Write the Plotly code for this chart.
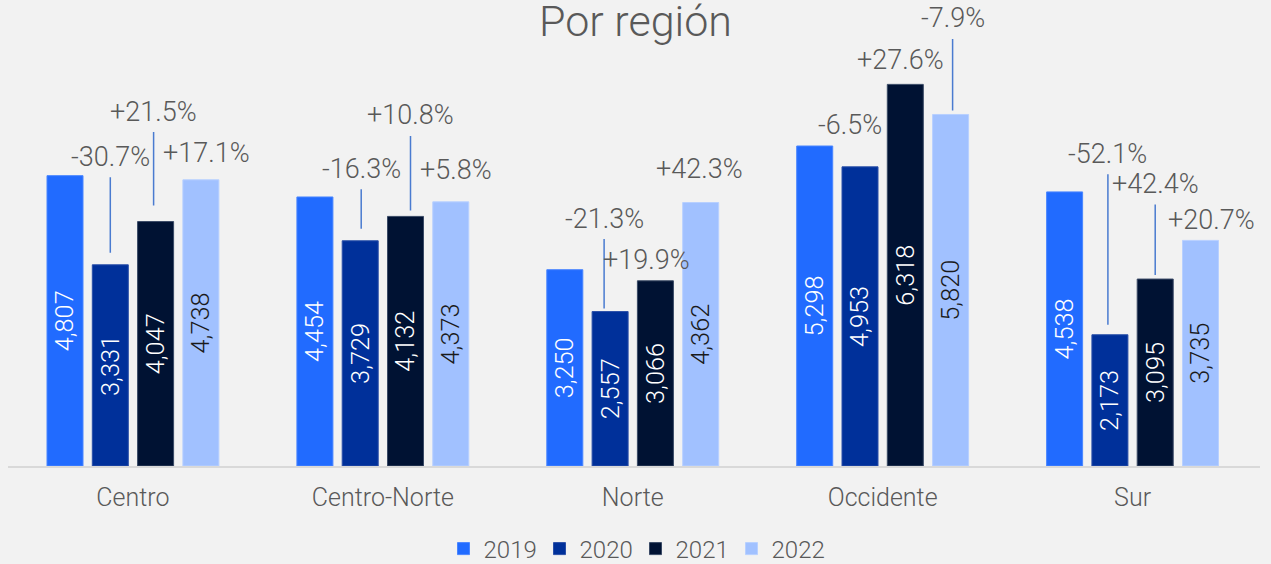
import plotly.graph_objects as go

regions = ["Centro", "Centro-Norte", "Norte", "Occidente", "Sur"]
years = ["2019", "2020", "2021", "2022"]
v2019 = [4807, 4454, 3250, 5298, 4538]
v2020 = [3331, 3729, 2557, 4953, 2173]
v2021 = [4047, 4132, 3066, 6318, 3095]
v2022 = [4738, 4373, 4362, 5820, 3735]
series = [v2019, v2020, v2021, v2022]

colors = ["#216BFF", "#00309A", "#001233", "#A1C1FF"]
edge_colors = ["#4A86FF", "#2A4FA8", "#3A4A66", "#B8D0FF"]
text_colors = ["#FFFFFF", "#FFFFFF", "#FFFFFF", "#1A1A1A"]

FONT = "Roboto"
GRAY = "#595959"
BARGAP = 0.275
BARGROUPGAP = 0.205

# label placement for year-over-year change labels (2020, 2021, 2022 per region):
# (x shift px, y offset px from bar top, leader line, standoff px)
label_style = [
    [(0, -108, True, 12), (-2, -110, True, 16), (6, -27, False, 0)],
    [(1, -72, True, 12), (5, -101, True, 6), (5, -32, False, 0)],
    [(-6, -93, True, 3), (-9, -21, False, 0), (-1, -34, False, 0)],
    [(-10, -42, False, 0), (-5, -24, False, 0), (2, -96, True, 4)],
    [(-2, -181, True, 10), (0, -95, True, 4), (11, -20, False, 0)],
]

fig = go.Figure()
for j, (yr, vals) in enumerate(zip(years, series)):
    fig.add_trace(go.Bar(
        x=regions, y=vals, name=yr,
        marker=dict(color=colors[j], line=dict(color=edge_colors[j], width=1)),
        text=[f"{v:,}" for v in vals],
        textposition="inside", insidetextanchor="middle", textangle=-90,
        textfont=dict(family=FONT, size=27, color=text_colors[j], weight=300),
        cliponaxis=False,
    ))

slot = (1 - BARGAP) / len(years)
annotations = []
for i, reg in enumerate(regions):
    for j in range(1, 4):
        prev = series[j - 1][i]
        cur = series[j][i]
        pct = (cur / prev - 1) * 100
        txt = f"{pct:+.1f}%"
        dx, dy, line, standoff = label_style[i][j - 1]
        annotations.append(dict(
            x=i + (j - 1.5) * slot, y=cur, xref="x", yref="y",
            text=txt, showarrow=True, arrowhead=0,
            arrowwidth=1.5 if line else 0.1,
            arrowcolor="#4A7BD0" if line else "rgba(0,0,0,0)",
            ax=0, ay=dy, xshift=dx, standoff=standoff, borderpad=4,
            font=dict(family=FONT, size=27, color=GRAY, weight=300),
        ))

fig.update_layout(
    width=1271, height=564,
    paper_bgcolor="#F2F2F2", plot_bgcolor="#F2F2F2",
    barmode="group", bargap=BARGAP, bargroupgap=BARGROUPGAP,
    margin=dict(l=8, r=11, t=20, b=98),
    title=dict(text="Por región", x=0.5, xanchor="center", xref="container",
               y=1 - 21 / 564, yref="container", yanchor="middle",
               font=dict(family=FONT, size=43, color=GRAY, weight=300)),
    legend=dict(orientation="h", x=0.5, xanchor="center", xref="container",
                y=1 - 549 / 564, yref="container", yanchor="middle",
                font=dict(family=FONT, size=24, color=GRAY, weight=300),
                entrywidth=51, entrywidthmode="pixels",
                itemclick=False, traceorder="normal"),
    xaxis=dict(showline=True, linecolor="#D9D9D9", linewidth=2, showgrid=False,
               ticks="", ticklabelstandoff=8,
               tickfont=dict(family=FONT, size=25, color=GRAY, weight=300)),
    yaxis=dict(visible=False, range=[0, 7384]),
    annotations=annotations,
)

fig.write_html(
    "out.html",
    config={"displayModeBar": False},
    post_script="document.body.style.margin='0';document.body.style.background='#F2F2F2';",
)
